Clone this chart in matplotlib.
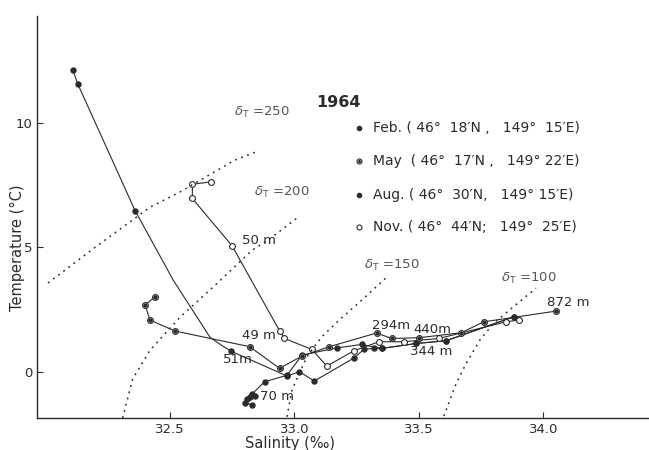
import matplotlib.pyplot as plt

# T-S profiles, 1964 (salinity in permil, temperature in deg C)
feb_sal = [32.83, 32.80, 32.81, 32.82, 32.84, 32.83, 32.88, 32.97, 33.03, 33.17, 33.27, 33.35, 33.49, 33.61, 33.88]
feb_temp = [-1.34, -1.25, -1.10, -1.04, -1.00, -0.90, -0.41, -0.15, 0.66, 0.95, 1.09, 0.93, 1.13, 1.24, 2.20]

may_sal = [32.44, 32.40, 32.42, 32.52, 32.82, 32.94, 33.03, 33.14, 33.33, 33.39, 33.50, 33.67, 33.76, 34.05]
may_temp = [3.01, 2.67, 2.07, 1.63, 1.00, 0.13, 0.62, 1.00, 1.55, 1.33, 1.36, 1.56, 2.00, 2.43]

aug_sal = [32.11, 32.13, 32.36, 32.745, 32.97, 33.02, 33.08, 33.24, 33.28, 33.32, 33.35, 33.49, 33.61, 33.88]
aug_temp = [12.12, 11.56, 6.47, 0.82, -0.18, -0.01, -0.38, 0.55, 0.90, 0.93, 0.93, 1.13, 1.24, 2.20]
# hand-drawn bend of the Aug curve between 6.5 and 0.8 deg C (no samples there)
aug_bend_sal = [32.513, 32.661, 32.709]
aug_bend_temp = [3.68, 1.375, 1.045]

nov_sal = [32.665, 32.59, 32.59, 32.75, 32.94, 32.96, 33.07, 33.13, 33.24, 33.34, 33.44, 33.58, 33.85, 33.90]
nov_temp = [7.63, 7.53, 6.96, 5.05, 1.64, 1.33, 0.89, 0.22, 0.84, 1.20, 1.20, 1.33, 2.00, 2.07]

# thermosteric anomaly isopleths (cl/t)
iso_250_sal = [32.01, 32.20, 32.42, 32.54, 32.76, 32.85]
iso_250_temp = [3.56, 5.00, 6.61, 7.22, 8.50, 8.85]
iso_200_sal = [32.31, 32.35, 32.42, 32.54, 32.69, 32.83, 32.90, 33.01]
iso_200_temp = [-1.87, -0.30, 0.86, 2.18, 3.55, 4.88, 5.33, 6.17]
iso_150_sal = [32.97, 32.99, 33.05, 33.11, 33.18, 33.27, 33.37]
iso_150_temp = [-1.82, -0.74, 0.60, 1.40, 2.07, 2.87, 3.79]
iso_100_sal = [33.60, 33.65, 33.69, 33.745, 33.80, 33.88, 33.97]
iso_100_temp = [-1.79, -0.47, 0.33, 1.27, 1.94, 2.61, 3.35]

iso_labels = ['250', '200', '150', '100']
iso_label_sal = [32.87, 32.95, 33.39, 33.94]
iso_label_temp = [10.43, 7.22, 4.28, 3.76]

depth_labels = ['50 m', '49 m', '51m', '70 m', '294m', '440m', '344 m', '872 m']
depth_sal = [32.79, 32.79, 32.713, 32.86, 33.31, 33.476, 33.464, 34.013]
depth_temp = [5.29, 1.43, 0.50, -1.01, 1.87, 1.71, 0.80, 2.77]

legend_rows = ['Feb. ( 46°  18′N ,   149°  15′E)',
               'May  ( 46°  17′N ,   149° 22′E)',
               'Aug. ( 46°  30′N,   149° 15′E)',
               'Nov. ( 46°  44′N;   149°  25′E)']
legend_temp = [9.80, 8.46, 7.10, 5.82]

ink = '#2b2b2b'

fig = plt.figure(figsize=(6.49, 4.5), dpi=100)
ax = fig.add_axes([0.057, 0.071, 0.943, 0.893])

dots = dict(color=ink, lw=0.8, marker='o', ms=3.6, mfc=ink, mec=ink)
rings = dict(color=ink, lw=0.8, marker='o', ms=4.2, mfc='white', mec=ink, mew=0.8)

ax.plot(feb_sal, feb_temp, **dots)

# Aug: line follows the drawn bend, markers only at sampled depths
aug_line_sal = aug_sal[:3] + aug_bend_sal + aug_sal[3:]
aug_line_temp = aug_temp[:3] + aug_bend_temp + aug_temp[3:]
ax.plot(aug_line_sal, aug_line_temp, color=ink, lw=0.8)
ax.plot(aug_sal, aug_temp, ls='none', marker='o', ms=3.6, mfc=ink, mec=ink)

ax.plot(nov_sal, nov_temp, **rings)
ax.plot(may_sal, may_temp, **rings)
ax.plot(may_sal, may_temp, ls='none', marker='o', ms=2.2, mfc=ink, mec=ink)

dotted = dict(color=ink, lw=1.1, ls=(0, (1.2, 3.0)))
ax.plot(iso_250_sal, iso_250_temp, **dotted)
ax.plot(iso_200_sal, iso_200_temp, **dotted)
ax.plot(iso_150_sal, iso_150_temp, **dotted)
ax.plot(iso_100_sal, iso_100_temp, **dotted)

for lab, s, t in zip(iso_labels, iso_label_sal, iso_label_temp):
    ax.text(s, t, r'$\delta_{\rm T}$ =' + lab, fontsize=9.5, color='#555555',
            ha='center', va='center')

for lab, s, t in zip(depth_labels, depth_sal, depth_temp):
    ax.text(s, t, lab, fontsize=9.5, color=ink, ha='left', va='center')

ax.text(33.086, 10.83, '1964', fontsize=11.5, fontweight='bold', color=ink,
        ha='left', va='center')
markers = [dict(mfc=ink, ms=3.2), dict(mfc='white', ms=3.6), dict(mfc=ink, ms=3.2),
           dict(mfc='white', ms=3.6)]
for row, t, mk in zip(legend_rows, legend_temp, markers):
    ax.plot([33.261], [t], marker='o', mec=ink, mew=0.8, ls='none', **mk)
    ax.text(33.315, t, row, fontsize=10, color=ink, ha='left', va='center')
ax.plot([33.261], [legend_temp[1]], marker='o', ms=1.2, mfc=ink, mec=ink, ls='none')

ax.set_xlim(31.966, 34.424)
ax.set_ylim(-1.87, 14.29)
ax.set_xticks([32.5, 33.0, 33.5, 34.0])
ax.set_xticklabels(['32.5', '33.0', '33.5', '34.0'])
ax.set_yticks([0, 5, 10])
ax.tick_params(direction='in', length=4, width=0.8, colors=ink, labelsize=9.5)
ax.tick_params(axis='y', pad=3)
for side in ['top', 'right']:
    ax.spines[side].set_visible(False)
for side in ['left', 'bottom']:
    ax.spines[side].set_color(ink)
    ax.spines[side].set_linewidth(1.0)

ax.set_xlabel('Salinity (‰)', fontsize=10.5, color=ink)
ax.xaxis.set_label_coords(0.413, -0.045)
ax.set_ylabel('Temperature (°C)', fontsize=10.5, color=ink)
ax.yaxis.set_label_coords(-0.020, 0.425)

fig.savefig('out.png', dpi=100)
